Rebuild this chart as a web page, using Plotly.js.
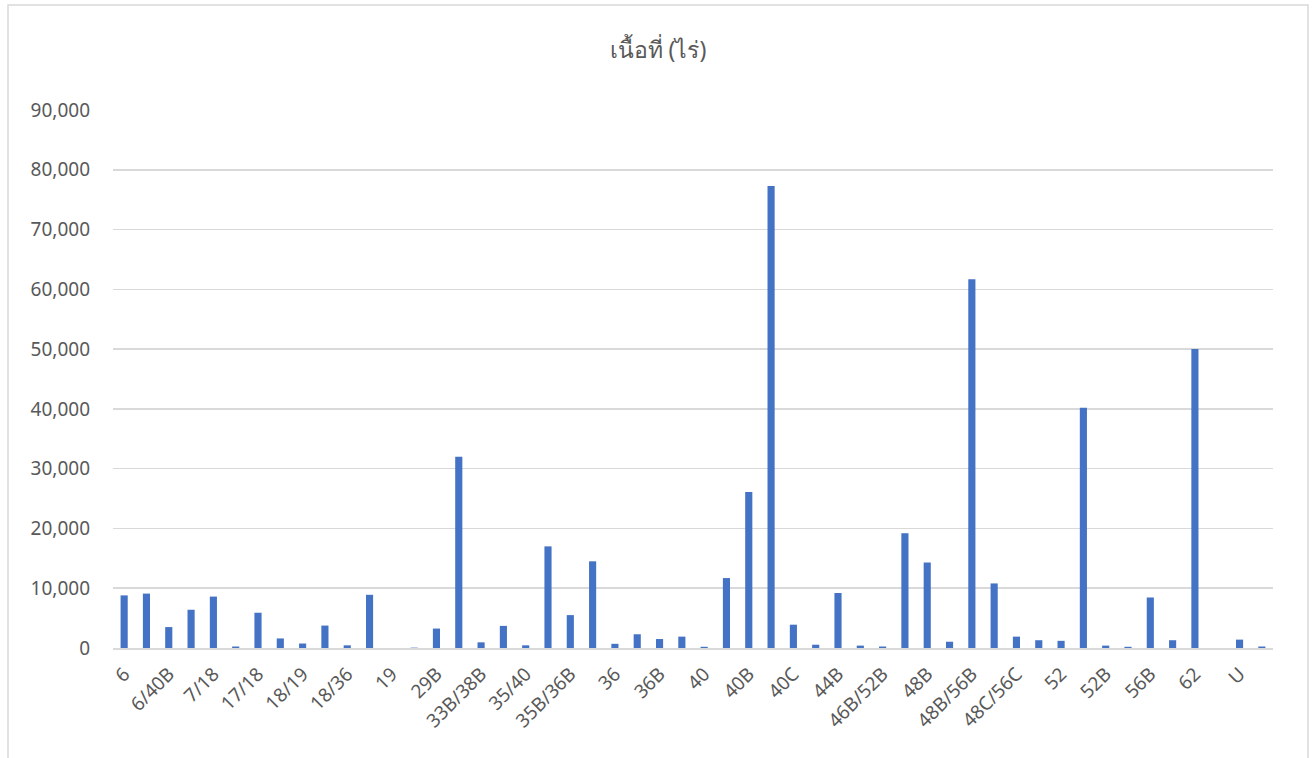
<!DOCTYPE html>
<html>
<head>
<meta charset="utf-8">
<script src="https://cdn.plot.ly/plotly-3.0.1.min.js"></script>
<style>
html,body{margin:0;padding:0;background:#fff;}
#chart{width:1316px;height:758px;}
</style>
</head>
<body>
<div id="chart"></div>
<script>
// Soil group categories (every other one is labelled on the axis)
var categories = [
  "6","6/40","6/40B","7","7/18","17","17/18","18","18/19","18/35",
  "18/36","18B","19","29","29B","33B","33B/38B","35","35/40","35B",
  "35B/36B","35C","36","36/40","36B","38","40","40/44","40B","40B/44B",
  "40C","44","44B","46B","46B/52B","48","48B","48B/52B","48B/56B","48C",
  "48C/56C","49","52","52/56","52B","56","56B","59","62","SC",
  "U","W"
];
var areaRai = [
  8800, 9100, 3500, 6400, 8600, 250, 5900, 1600, 750, 3750,
  450, 8900, 0, 60, 3250, 32000, 950, 3700, 450, 17000,
  5500, 14500, 700, 2300, 1500, 1900, 200, 11700, 26100, 77300,
  3900, 550, 9200, 400, 250, 19200, 14300, 1050, 61700, 10800,
  1900, 1300, 1200, 40200, 400, 200, 8450, 1300, 50000, 0,
  1400, 250
];
var tickLabels = ["6","6/40B","7/18","17/18","18/19","18/36","19","29B","33B/38B","35/40",
  "35B/36B","36","36B","40","40B","40C","44B","46B/52B","48B","48B/56B",
  "48C/56C","52","52B","56B","62","U"];
var yTicks = [0,10000,20000,30000,40000,50000,60000,70000,80000,90000];
var chartTitle = "เนื้อที่ (ไร่)";

var tickCats = categories.filter(function(c){ return tickLabels.indexOf(c) >= 0; });

var font = "Noto Sans, DejaVu Sans, Liberation Sans, sans-serif";

var trace = {
  type: "bar",
  x: categories,
  y: areaRai,
  marker: {color: "#4472C4", line: {width: 0}},
  hoverinfo: "x+y"
};

var layout = {
  width: 1316,
  height: 758,
  margin: {l: 113, r: 43, t: 110, b: 110, pad: 0},
  paper_bgcolor: "#ffffff",
  plot_bgcolor: "#ffffff",
  bargap: 0.68,
  showlegend: false,
  font: {family: font, color: "#595959", size: 19},
  title: {
    text: chartTitle,
    font: {family: font, size: 23, color: "#595959"},
    x: 0.5, xanchor: "center",
    y: 1 - 50/758, yanchor: "middle"
  },
  xaxis: {
    type: "category",
    tickmode: "array",
    tickvals: tickCats,
    ticktext: tickCats,
    tickangle: -45,
    showgrid: false,
    showline: true,
    linecolor: "#d9d9d9",
    linewidth: 1.5,
    ticks: "",
    ticklabelstandoff: 6,
    tickfont: {family: font, size: 19, color: "#595959"},
    range: [-0.5, categories.length - 0.5],
    fixedrange: true
  },
  yaxis: {
    range: [0, 90000],
    tickmode: "array",
    tickvals: yTicks,
    tickformat: ",d",
    showgrid: true,
    gridcolor: "#d9d9d9",
    gridwidth: 1.5,
    zeroline: false,
    showline: false,
    ticks: "",
    ticklabelstandoff: 22,
    tickfont: {family: font, size: 19, color: "#595959"},
    fixedrange: true
  },
  shapes: [{
    type: "rect",
    xref: "paper", yref: "paper",
    x0: (8 - 113) / 1160, x1: (1308 - 113) / 1160,
    y0: (648 - 770) / 538, y1: (648 - 5) / 538,
    line: {color: "#d9d9d9", width: 1.5},
    fillcolor: "rgba(0,0,0,0)",
    layer: "below"
  }]
};

Plotly.newPlot("chart", [trace], layout, {displayModeBar: false, staticPlot: true});
</script>
</body>
</html>
